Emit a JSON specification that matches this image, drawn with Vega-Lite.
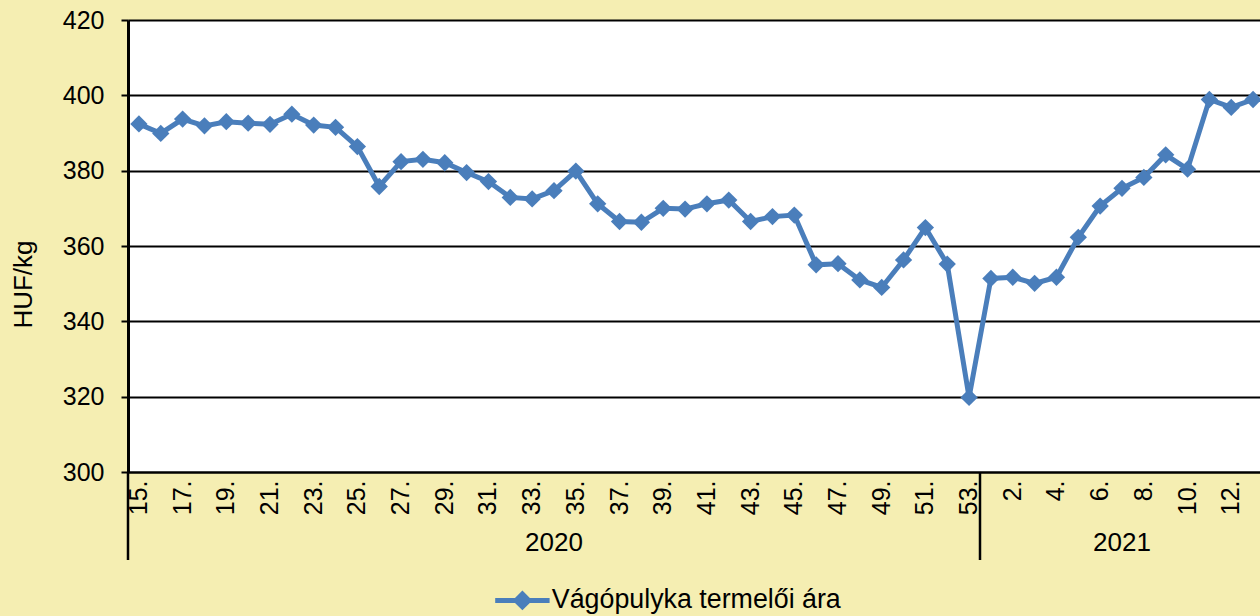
{
  "$schema": "https://vega.github.io/schema/vega-lite/v6.json",
  "width": 1132,
  "height": 452,
  "autosize": {"type": "none"},
  "padding": {"left": 128, "top": 20, "right": 0, "bottom": 144},
  "background": "#F5EEB2",
  "view": {"fill": "white", "stroke": null},
  "config": {
    "font": "Liberation Sans"
  },
  "data": {
    "values": [
      {"year": "2020", "week": "15", "price": 392.4},
      {"year": "2020", "week": "16", "price": 389.9},
      {"year": "2020", "week": "17", "price": 393.7},
      {"year": "2020", "week": "18", "price": 391.9},
      {"year": "2020", "week": "19", "price": 393.0},
      {"year": "2020", "week": "20", "price": 392.6},
      {"year": "2020", "week": "21", "price": 392.3},
      {"year": "2020", "week": "22", "price": 395.0},
      {"year": "2020", "week": "23", "price": 392.1},
      {"year": "2020", "week": "24", "price": 391.5},
      {"year": "2020", "week": "25", "price": 386.4},
      {"year": "2020", "week": "26", "price": 375.8},
      {"year": "2020", "week": "27", "price": 382.4},
      {"year": "2020", "week": "28", "price": 383.0},
      {"year": "2020", "week": "29", "price": 382.1},
      {"year": "2020", "week": "30", "price": 379.5},
      {"year": "2020", "week": "31", "price": 377.1},
      {"year": "2020", "week": "32", "price": 372.9},
      {"year": "2020", "week": "33", "price": 372.5},
      {"year": "2020", "week": "34", "price": 374.7},
      {"year": "2020", "week": "35", "price": 379.9},
      {"year": "2020", "week": "36", "price": 371.2},
      {"year": "2020", "week": "37", "price": 366.5},
      {"year": "2020", "week": "38", "price": 366.3},
      {"year": "2020", "week": "39", "price": 370.0},
      {"year": "2020", "week": "40", "price": 369.8},
      {"year": "2020", "week": "41", "price": 371.2},
      {"year": "2020", "week": "42", "price": 372.2},
      {"year": "2020", "week": "43", "price": 366.5},
      {"year": "2020", "week": "44", "price": 367.8},
      {"year": "2020", "week": "45", "price": 368.2},
      {"year": "2020", "week": "46", "price": 355.0},
      {"year": "2020", "week": "47", "price": 355.3},
      {"year": "2020", "week": "48", "price": 351.0},
      {"year": "2020", "week": "49", "price": 349.0},
      {"year": "2020", "week": "50", "price": 356.3},
      {"year": "2020", "week": "51", "price": 364.9},
      {"year": "2020", "week": "52", "price": 355.2},
      {"year": "2020", "week": "53", "price": 319.8},
      {"year": "2021", "week": "1", "price": 351.4},
      {"year": "2021", "week": "2", "price": 351.7},
      {"year": "2021", "week": "3", "price": 350.1},
      {"year": "2021", "week": "4", "price": 351.7},
      {"year": "2021", "week": "5", "price": 362.3},
      {"year": "2021", "week": "6", "price": 370.6},
      {"year": "2021", "week": "7", "price": 375.3},
      {"year": "2021", "week": "8", "price": 378.2},
      {"year": "2021", "week": "9", "price": 384.2},
      {"year": "2021", "week": "10", "price": 380.4},
      {"year": "2021", "week": "11", "price": 398.9},
      {"year": "2021", "week": "12", "price": 396.8},
      {"year": "2021", "week": "13", "price": 398.9}
    ]
  },
  "encoding": {
    "x": {
      "field": "week",
      "type": "ordinal",
      "sort": null,
      "scale": {"type": "band", "paddingInner": 0, "paddingOuter": 0, "range": [0, 1136]},
      "axis": {
        "title": null,
        "labelAngle": 270,
        "labelAlign": "right",
        "labelBaseline": "middle",
        "labelFont": "Liberation Sans",
        "labelFontSize": 25,
        "labelColor": "black",
        "labelPadding": 8,
        "labelOverlap": false,
        "labelBound": false,
        "labelExpr": "(toNumber(datum.value) >= 14 ? toNumber(datum.value) % 2 == 1 : toNumber(datum.value) % 2 == 0) ? datum.value + '.' : ''",
        "ticks": false,
        "tickSize": 0,
        "domain": true,
        "domainColor": "black",
        "domainWidth": 2,
        "grid": false
      }
    },
    "y": {
      "field": "price",
      "type": "quantitative",
      "scale": {"domain": [300, 420], "zero": false, "nice": false},
      "axis": {
        "title": "HUF/kg",
        "titleFont": "Liberation Sans",
        "titleFontSize": 26,
        "titleFontWeight": "normal",
        "titleColor": "black",
        "titleAngle": 270,
        "titleAlign": "center",
        "titleBaseline": "middle",
        "titleX": -105,
        "titleY": 264,
        "values": [300, 320, 340, 360, 380, 400, 420],
        "labelFont": "Liberation Sans",
        "labelFontSize": 25,
        "labelColor": "black",
        "labelPadding": 17,
        "labelBaseline": "middle",
        "ticks": true,
        "tickSize": 7,
        "tickWidth": 2,
        "tickColor": "black",
        "domain": true,
        "domainColor": "black",
        "domainWidth": 3,
        "grid": true,
        "gridColor": "black",
        "gridWidth": 2.2,
        "gridOpacity": 1
      }
    }
  },
  "layer": [
    {
      "mark": {"type": "line", "strokeWidth": 5},
      "encoding": {
        "color": {
          "datum": "Vágópulyka termelői ára",
          "type": "nominal",
          "scale": {"range": ["#4A7EBB"]},
          "legend": {
            "orient": "none",
            "legendX": 381,
            "legendY": 567,
            "title": null,
            "padding": 0,
            "symbolType": "M-3.4,0L3.4,0M0,-0.8L0.8,0L0,0.8L-0.8,0Z",
            "symbolSize": 256,
            "symbolStrokeWidth": 5,
            "symbolFillColor": "#4A7EBB",
            "symbolStrokeColor": "#4A7EBB",
            "labelFont": "Liberation Sans",
            "labelFontSize": 26.8,
            "labelColor": "black",
            "labelLimit": 0,
            "labelOffset": 16
          }
        }
      }
    },
    {
      "mark": {"type": "point", "shape": "diamond", "filled": true, "size": 300, "opacity": 1},
      "encoding": {
        "color": {"datum": "Vágópulyka termelői ára", "type": "nominal"}
      }
    },
    {
      "transform": [{"filter": "datum.week == '34' || datum.week == '7'"}],
      "mark": {"type": "text", "font": "Liberation Sans", "fontSize": 26, "color": "black", "baseline": "middle", "align": "center"},
      "encoding": {
        "y": {"datum": 281.15},
        "text": {"field": "year"}
      }
    },
    {
      "transform": [{"filter": "datum.week == '15' || datum.week == '1'"}],
      "mark": {"type": "rule", "color": "black", "strokeWidth": 2.5},
      "encoding": {
        "x": {"field": "week", "type": "ordinal", "sort": null, "bandPosition": 0},
        "y": {"datum": 300},
        "y2": {"datum": 276.64}
      }
    }
  ]
}
